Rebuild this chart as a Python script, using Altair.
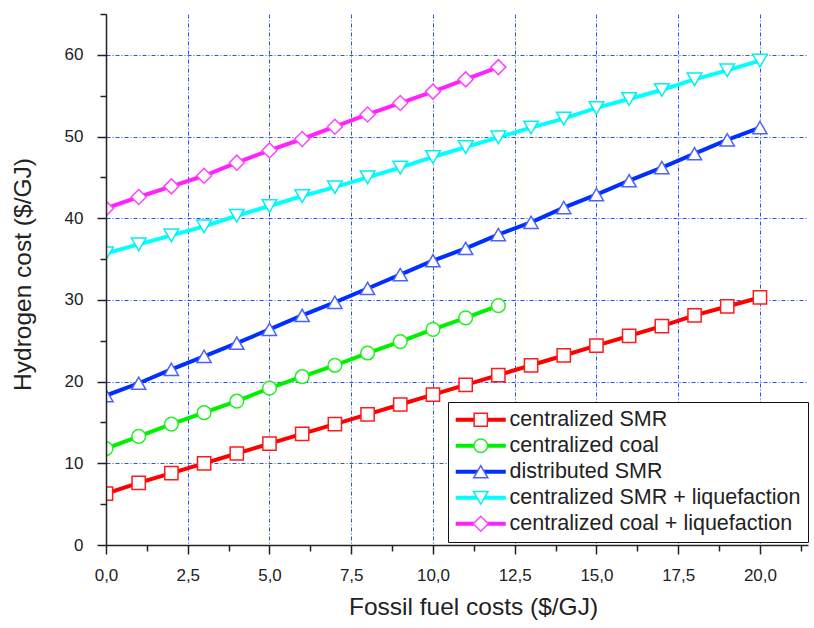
import altair as alt
import pandas as pd

series_names = [
    "centralized SMR",
    "centralized coal",
    "distributed SMR",
    "centralized SMR + liquefaction",
    "centralized coal + liquefaction",
]

x_long = list(range(0, 21))
x_short = list(range(0, 13))

smr = [6.3, 7.6, 8.8, 10.0, 11.2, 12.4, 13.6, 14.8, 16.0, 17.2, 18.4,
       19.6, 20.8, 22.0, 23.2, 24.4, 25.6, 26.8, 28.1, 29.2, 30.3]
coal = [11.8, 13.3, 14.8, 16.2, 17.6, 19.2, 20.6, 22.0, 23.5, 24.9, 26.4,
        27.8, 29.3]
dist_smr = [18.3, 19.8, 21.5, 23.1, 24.7, 26.4, 28.1, 29.7, 31.4, 33.1, 34.8,
            36.3, 38.0, 39.5, 41.3, 42.9, 44.6, 46.2, 47.9, 49.6, 51.1]
smr_liq = [35.7, 36.8, 37.9, 39.0, 40.3, 41.5, 42.7, 43.8, 45.0, 46.2, 47.5,
           48.7, 49.9, 51.1, 52.2, 53.5, 54.6, 55.7, 57.0, 58.1, 59.3]
coal_liq = [41.2, 42.6, 43.9, 45.2, 46.8, 48.3, 49.7, 51.2, 52.7, 54.1, 55.5,
            57.0, 58.5]

line_colors = ["#ff0000", "#00f000", "#0030ff", "#00ffff", "#ff22ff"]
marker_colors = ["#ff1a1a", "#22f022", "#4a62ff", "#00f0f0", "#ff44ff"]
shapes = ["square", "circle", "triangle-up", "triangle-down", "diamond"]
marker_sizes = [175, 225, 300, 300, 340]

x_major = [0, 2.5, 5, 7.5, 10, 12.5, 15, 17.5, 20]
x_minor = [1.25, 3.75, 6.25, 8.75, 11.25, 13.75, 16.25, 18.75, 21.25]
y_major = [0, 10, 20, 30, 40, 50, 60]
y_minor = [5, 15, 25, 35, 45, 55, 65]

rows = []
for name, xs, ys in [
    (series_names[0], x_long, smr),
    (series_names[1], x_short, coal),
    (series_names[2], x_long, dist_smr),
    (series_names[3], x_long, smr_liq),
    (series_names[4], x_short, coal_liq),
]:
    for xv, yv in zip(xs, ys):
        rows.append({"fuel": xv, "cost": yv, "series": name, "marker": name})
df = pd.DataFrame(rows)

FONT = "Liberation Sans"
TXT = "#222222"
xdom = [0, 21.47]
ydom = [0, 65]
xscale = alt.Scale(domain=xdom, nice=False, zero=False)
yscale = alt.Scale(domain=ydom, nice=False)
label_expr = "replace(format(datum.value, '.1f'), '.', ',')"
grid_dash = [4, 2, 1, 2]
grid_color = "#2a50ff"

leg_x, leg_y = 342, 388
LEG_FS = 21.5
LEG_ROWPAD = 3

base = alt.Chart(df)

lines = base.mark_line(strokeWidth=4, clip=True).encode(
    x=alt.X("fuel:Q", scale=xscale, axis=alt.Axis(
        orient="bottom",
        values=x_major, labelExpr=label_expr, labelFont=FONT, labelFontSize=17,
        labelColor=TXT, labelPadding=13, labelFlush=False, tickSize=9,
        tickColor=TXT, tickWidth=1.5,
        domain=False, grid=True, gridColor=grid_color, gridDash=grid_dash,
        gridWidth=1, title="Fossil fuel costs ($/GJ)", titleFont=FONT,
        titleFontSize=24.5, titleFontWeight="normal", titleColor=TXT,
        titleX=367, titleY=62, titleBaseline="middle", titleAlign="center")),
    y=alt.Y("cost:Q", scale=yscale, axis=alt.Axis(
        orient="left",
        values=y_major, labelFont=FONT, labelFontSize=17, labelColor=TXT,
        labelPadding=14, labelFlush=False, tickSize=9, tickColor=TXT,
        tickWidth=1.5, domain=False,
        grid=True, gridColor=grid_color, gridDash=grid_dash, gridWidth=1,
        title="Hydrogen cost ($/GJ)", titleFont=FONT, titleFontSize=24.5,
        titleFontWeight="normal", titleColor=TXT, titleX=-83, titleY=260,
        titleAngle=-90, titleAlign="center", titleBaseline="middle")),
    color=alt.Color("series:N", sort=series_names,
                    scale=alt.Scale(domain=series_names, range=line_colors),
                    legend=alt.Legend(
                        orient="none", legendX=leg_x, legendY=leg_y, title=None,
                        symbolType="M-4.17,0H4.17", symbolSize=144,
                        symbolStrokeWidth=4, labelFont=FONT,
                        labelFontSize=LEG_FS, labelColor=TXT,
                        rowPadding=LEG_ROWPAD, padding=7,
                        strokeColor="#111111", fillColor="white",
                        symbolOffset=15, labelOffset=18, labelLimit=400,
                        zindex=1)),
    detail="series:N",
)

leg_common = dict(
    orient="none", legendX=leg_x, legendY=leg_y, title=None, symbolSize=196,
    symbolStrokeWidth=1.5, symbolFillColor="white", labelFont=FONT,
    labelFontSize=LEG_FS, labelOpacity=0, rowPadding=LEG_ROWPAD, padding=7,
    symbolOffset=15, labelOffset=18, labelLimit=400, zindex=2)

points = base.mark_point(filled=False, fill="white", strokeWidth=1.5, opacity=1,
                         clip=True).encode(
    x=alt.X("fuel:Q", scale=xscale, axis=None),
    y=alt.Y("cost:Q", scale=yscale, axis=None),
    color=alt.Color("marker:N", sort=series_names,
                    scale=alt.Scale(domain=series_names, range=marker_colors),
                    legend=alt.Legend(**leg_common)),
    shape=alt.Shape("marker:N", sort=series_names,
                    scale=alt.Scale(domain=series_names, range=shapes),
                    legend=alt.Legend(**leg_common)),
    size=alt.Size("marker:N", sort=series_names,
                  scale=alt.Scale(domain=series_names, range=marker_sizes),
                  legend=None),
)

minor = base.mark_point(opacity=0).encode(
    x=alt.X("fuel:Q", scale=xscale, axis=alt.Axis(
        orient="bottom",
        values=x_minor, labels=False, tickSize=6, tickColor=TXT, tickWidth=1.5,
        domain=True, domainColor=TXT, domainWidth=1.5, grid=False, title=None,
        zindex=1)),
    y=alt.Y("cost:Q", scale=yscale, axis=alt.Axis(
        orient="left",
        values=y_minor, labels=False, tickSize=6, tickColor=TXT, tickWidth=1.5,
        domain=True, domainColor=TXT, domainWidth=1.5, grid=False, title=None,
        zindex=1)),
)

chart = alt.layer(lines, points, minor).resolve_axis(
    x="independent", y="independent"
).resolve_scale(
    color="independent", shape="independent", size="independent"
).properties(
    width=702, height=531, autosize="none",
    padding={"left": 106, "top": 14, "right": 6, "bottom": 83},
    background="white",
).configure_view(stroke=None)

chart.save("out.html", embed_options={"renderer": "svg", "actions": False})
